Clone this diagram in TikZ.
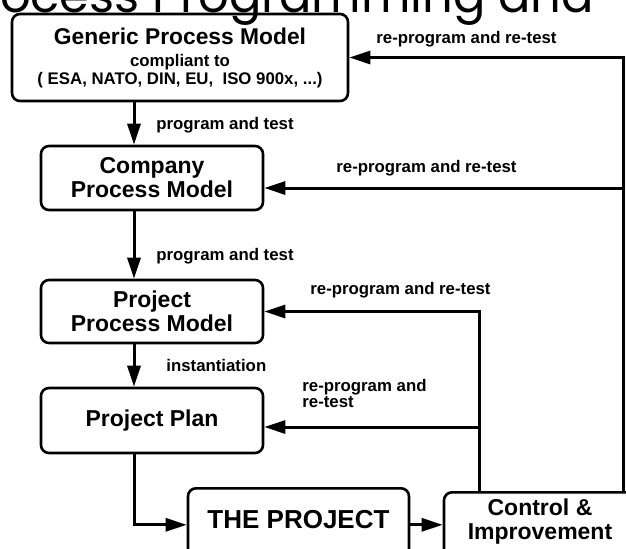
\documentclass[tikz,border=0pt]{standalone}
\usepackage{fontspec}
\setmainfont{Liberation Sans}
\newfontfamily\titlefont{Poppins}
\usepackage{tikz}
\usetikzlibrary{arrows.meta}

\tikzset{
	box/.style={draw, line width=1.3pt, rounded corners=4pt, align=center, inner sep=0pt, font=\bfseries\fontsize{11.5}{12}\selectfont},
	lbl/.style={anchor=west, inner sep=0pt, align=left, font=\bfseries\fontsize{8.4}{7}\selectfont},
	arr/.style={line width=1.5pt, -{Triangle[length=10.5pt,width=6.5pt]}},
}

\begin{document}
\begin{tikzpicture}[x=0.5pt, y=-0.5pt]
		\newcommand{\sx}{134}
		\newcommand{\ix}{479}
		\newcommand{\ox}{623}
		
		\useasboundingbox (0,0) rectangle (626,548);
		\clip (0,0) rectangle (626,548);
		
		\node[anchor=base west, inner sep=0pt, font=\titlefont\fontsize{24}{24}\selectfont] (title) at (-46, 12) {Process Programming and};
		
		\node[box, minimum width=168pt, minimum height=43.5pt, font=\bfseries\fontsize{8.4}{9}\selectfont] (genPM) at (180, 57.5) {{\fontsize{11.4}{13}\selectfont Generic Process Model}\\[2pt] compliant to\\( ESA, NATO, DIN, EU,~ ISO 900x, ...)};
		\node[box, minimum width=111pt, minimum height=32pt] (compPM) at (152, 178) {Company\\Process Model};
		\node[box, minimum width=111pt, minimum height=31.5pt] (projPM) at (152, 311.5) {Project\\Process Model};
		\node[box, minimum width=111pt, minimum height=32.5pt] (plan) at (152, 420.5) {Project Plan};
		\node[box, anchor=north, minimum width=110.5pt, text height=20pt, text depth=16.5pt, font=\bfseries\fontsize{13}{14}\selectfont] (proj) at (298.5, 487) {THE PROJECT};
		\node[box, anchor=north, minimum width=96pt, inner ysep=3.5pt] (ctrl) at (540, 491) {Control \&\\Improvement\rule[-6.5pt]{0pt}{6.5pt}};
		
		\node[lbl] (ptA) at (156, 125) {program and test};
		\node[lbl] (ptB) at (156, 256.5) {program and test};
		\node[lbl] (inst) at (166, 365) {instantiation};
		\node[lbl] (rpA) at (376, 39) {re-program and re-test};
		\node[lbl] (rpB) at (336, 168) {re-program and re-test};
		\node[lbl] (rpC) at (310, 290) {re-program and re-test};
		\node[lbl] (rpD) at (302, 393.5) {re-program and\\re-test};
		
		\coordinate (spine) at (\sx, 0);
		\coordinate (inner) at (\ix, 0);
		\coordinate (outer) at (\ox, 0);
		\coordinate (tapB) at (\ox, 188);
		\coordinate (tapD) at (\ix, 427);
		
		\draw[arr] (genPM.south -| spine) -- (compPM.north -| spine);
		\draw[arr] (compPM.south -| spine) -- (projPM.north -| spine);
		\draw[arr] (projPM.south -| spine) -- (plan.north -| spine);
		\draw[arr] (plan.south -| spine) |- (proj.west);
		\draw[arr] (proj.east) -- (proj.east -| ctrl.west);
		\draw[arr] (ctrl.north -| outer) |- (genPM.east);
		\draw[arr] (tapB) -- (tapB -| compPM.east);
		\draw[arr] (ctrl.north -| inner) |- (projPM.east);
		\draw[arr] (tapD) -- (tapD -| plan.east);
	\end{tikzpicture}
\end{document}
